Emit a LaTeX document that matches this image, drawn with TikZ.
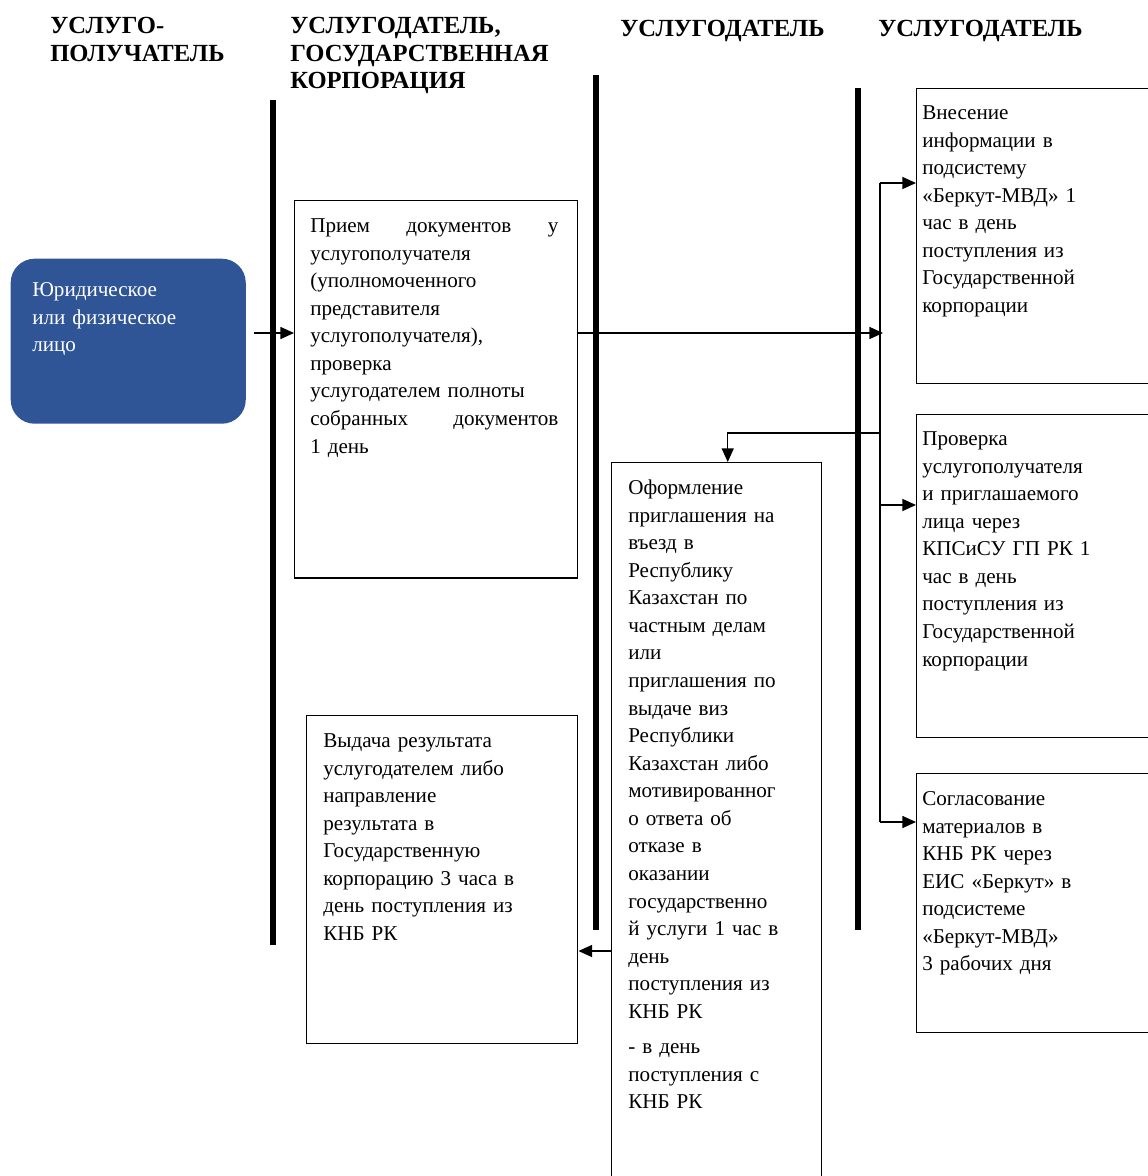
\documentclass[tikz,border=0pt]{standalone}
\usepackage{fontspec}
\setmainfont{Liberation Serif}
\usetikzlibrary{arrows.meta}
\setlength\parindent{0pt}
\definecolor{clientblue}{RGB}{47,85,151}
\tikzset{
  box/.style={draw, line width=0.35mm, anchor=north west, inner sep=0pt},
  txt/.style={anchor=north west, inner sep=0pt, align=left, text width=#1,
    font=\fontsize{15}{19.6}\selectfont, execute at begin node=\strut},
  head/.style={anchor=north west, inner sep=0pt, align=left,
    font=\fontsize{17.5}{19.6}\selectfont\bfseries, execute at begin node=\strut},
  lane/.style={line width=1.5mm},
  conn/.style={line width=0.3mm},
  arr/.style={conn, -{Triangle[length=3.4mm,width=3mm]}},
}

\begin{document}
\begin{tikzpicture}[x=0.025cm, y=-0.025cm]
  %%%%% START %%%%%
  \useasboundingbox (0,0) rectangle (1148,1176);
  \clip (0,0) rectangle (1148,1176);

  % lane headers
  \node[head] (h1) at (50,17) {УСЛУГО-\\ПОЛУЧАТЕЛЬ};
  \node[head] (h2) at (290,17) {УСЛУГОДАТЕЛЬ,\\ГОСУДАРСТВЕННАЯ\\КОРПОРАЦИЯ};
  \node[head] (h3) at (620,17) {УСЛУГОДАТЕЛЬ};
  \node[head] (h4) at (878,17) {УСЛУГОДАТЕЛЬ};

  % lane separators
  \draw[lane] (273,100) -- (273,945);
  \draw[lane] (596,75) -- (596,930);
  \draw[lane] (858,88) -- (858,930);

  % boxes
  \node[box, draw=none, fill=clientblue, rounded corners=0.6cm,
    minimum width=5.875cm, minimum height=4.125cm] (client) at (10,258) {};
  \node[box, minimum width=7.075cm, minimum height=9.425cm] (reception) at (294,200) {};
  \node[box, minimum width=6.1cm, minimum height=7.375cm] (enter) at (916,88) {};
  \node[box, minimum width=6.1cm, minimum height=8.075cm] (check) at (916,414) {};
  \node[box, minimum width=6.1cm, minimum height=6.475cm] (agree) at (916,773) {};
  \node[box, minimum width=5.25cm, minimum height=18.2cm] (issue) at (611,462) {};
  \node[box, minimum width=6.775cm, minimum height=8.2cm] (result) at (306,715) {};

  % texts
  \node[txt=5.2cm, text=white] (clienttxt) at (32,277)
    {Юридическое\\или физическое\\лицо};
  \node[txt=6.2cm] (receptiontxt) at (310,213)
    {Прием\hfill документов\hfill у\\услугополучателя\\(уполномоченного\\представителя\\услугополучателя),\\проверка\\услугодателем полноты\\собранных\hfill документов\\1 день};
  \node[txt=5.5cm] (entertxt) at (922,100)
    {Внесение\\информации в\\подсистему\\«Беркут-МВД» 1\\час в день\\поступления из\\Государственной\\корпорации};
  \node[txt=5.5cm] (checktxt) at (922,426)
    {Проверка\\услугополучателя\\и приглашаемого\\лица через\\КПСиСУ ГП РК 1\\час в день\\поступления из\\Государственной\\корпорации};
  \node[txt=5.5cm] (agreetxt) at (922,786)
    {Согласование\\материалов в\\КНБ РК через\\ЕИС «Беркут» в\\подсистеме\\«Беркут-МВД»\\3 рабочих дня};
  \node[txt=4.9cm] (issuetxt) at (628,475)
    {Оформление\\приглашения на\\въезд в\\Республику\\Казахстан по\\частным делам\\или\\приглашения по\\выдаче виз\\Республики\\Казахстан либо\\мотивированног\\о ответа об\\отказе в\\оказании\\государственно\\й услуги 1 час в\\день\\поступления из\\КНБ РК\\[0.2cm]- в день\\поступления с\\КНБ РК};
  \node[txt=6.2cm] (resulttxt) at (323,728)
    {Выдача результата\\услугодателем либо\\направление\\результата в\\Государственную\\корпорацию 3 часа в\\день поступления из\\КНБ РК};

  % connectors
  \coordinate (row) at (0,333);
  \coordinate (split) at (883,333);
  \coordinate (bus0) at (880,433);
  \coordinate (bus1) at (880,183);
  \coordinate (bus2) at (880,505);
  \coordinate (bus3) at (880,822);
  \coordinate (back) at (0,951);

  \draw[arr] ([xshift=0.2cm]client.east |- row) -- (reception.west |- row);
  \draw[arr] (reception.east |- row) -- (split);
  \draw[conn] (bus1) -- (bus3);
  \draw[arr] (bus1) -- (bus1 -| enter.west);
  \draw[arr] (bus2) -- (bus2 -| check.west);
  \draw[arr] (bus3) -- (bus3 -| agree.west);
  \draw[arr] (bus0) -| ([xshift=0.275cm]issue.north);
  \draw[arr] (issue.west |- back) -- (result.east |- back);
  %%%%% END %%%%%
\end{tikzpicture}
\end{document}
